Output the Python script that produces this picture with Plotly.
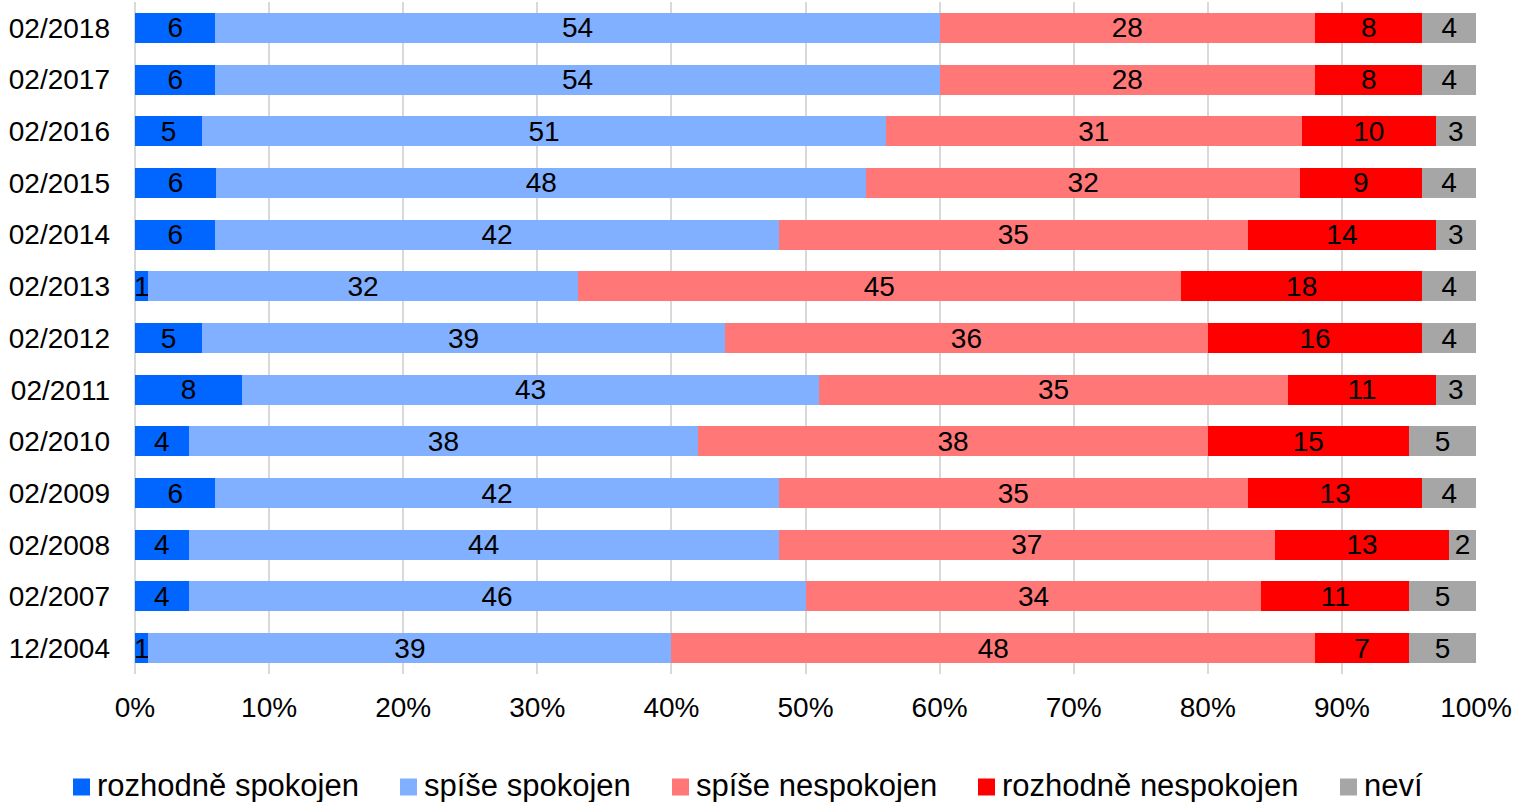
import plotly.graph_objects as go

categories = ["02/2018", "02/2017", "02/2016", "02/2015", "02/2014", "02/2013", "02/2012",
              "02/2011", "02/2010", "02/2009", "02/2008", "02/2007", "12/2004"]

series_names = ["rozhodně spokojen", "spíše spokojen", "spíše nespokojen", "rozhodně nespokojen", "neví"]

rozhodne_spokojen = [6, 6, 5, 6, 6, 1, 5, 8, 4, 6, 4, 4, 1]
spise_spokojen = [54, 54, 51, 48, 42, 32, 39, 43, 38, 42, 44, 46, 39]
spise_nespokojen = [28, 28, 31, 32, 35, 45, 36, 35, 38, 35, 37, 34, 48]
rozhodne_nespokojen = [8, 8, 10, 9, 14, 18, 16, 11, 15, 13, 13, 11, 7]
nevi = [4, 4, 3, 4, 3, 4, 4, 3, 5, 4, 2, 5, 5]

colors = ["#0066FF", "#80B0FF", "#FF7777", "#FF0000", "#A6A6A6"]

x_ticks = [0, 10, 20, 30, 40, 50, 60, 70, 80, 90, 100]
x_tick_labels = [f"{t}%" for t in x_ticks]

FONT = "Liberation Sans, Arial, sans-serif"

W, H = 1516, 802
ML, MR, MT, MB = 135, 40, 2, 128
PW, PH = W - ML - MR, H - MT - MB

fig = go.Figure()
for name, vals, col in zip(series_names,
                           [rozhodne_spokojen, spise_spokojen, spise_nespokojen, rozhodne_nespokojen, nevi],
                           colors):
    fig.add_trace(go.Bar(
        name=name, y=categories, x=vals, orientation="h",
        marker=dict(color=col, line=dict(width=0)),
        text=vals, texttemplate="%{text}", textposition="inside",
        insidetextanchor="middle", textangle=0, constraintext="none",
        textfont=dict(family=FONT, size=28, color="black"),
        hoverinfo="x+y+name", showlegend=False,
    ))

# custom legend (pixel layout converted to paper coordinates)
legend_px = [73, 400, 672, 978, 1340]
legend_y_px = 787
sq = 17
for name, col, px in zip(series_names, colors, legend_px):
    fig.add_shape(type="rect", xref="paper", yref="paper",
                  x0=(px - ML) / PW, x1=(px + sq - ML) / PW,
                  y0=(MT + PH - (legend_y_px + sq / 2)) / PH,
                  y1=(MT + PH - (legend_y_px - sq / 2)) / PH,
                  fillcolor=col, line=dict(width=0))
    fig.add_annotation(text=name, xref="paper", yref="paper",
                       x=(px + sq + 5 - ML) / PW, xanchor="left",
                       y=(MT + PH - legend_y_px + 2) / PH, yanchor="middle",
                       showarrow=False, font=dict(family=FONT, size=31, color="black"))

fig.update_layout(
    width=W, height=H,
    barmode="stack", barnorm="percent", bargap=0.42,
    uniformtext=dict(minsize=28, mode="show"),
    paper_bgcolor="white", plot_bgcolor="white",
    margin=dict(l=ML, r=MR, t=MT, b=MB, autoexpand=False),
    font=dict(family=FONT, size=28, color="black"),
    showlegend=False,
)
fig.update_xaxes(range=[0, 100], tickvals=x_ticks, ticktext=x_tick_labels,
                 showgrid=True, gridcolor="#D9D9D9", gridwidth=2,
                 zeroline=True, zerolinecolor="#D9D9D9", zerolinewidth=2,
                 ticks="", ticklabelstandoff=14, fixedrange=True)
fig.update_yaxes(categoryorder="array", categoryarray=categories, autorange="reversed",
                 showgrid=False, ticks="", ticklabelstandoff=24, fixedrange=True)

fig.write_html("out.html", config={"displayModeBar": False},
               post_script="document.body.style.margin='0px';document.body.style.overflow='hidden';")
